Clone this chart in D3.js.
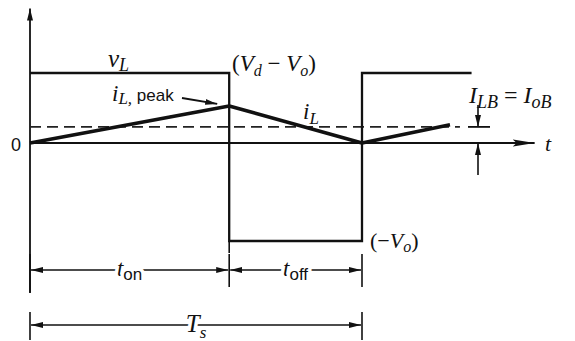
<!DOCTYPE html>
<html>
<head>
<meta charset="utf-8">
<script src="https://cdn.jsdelivr.net/npm/d3@7"></script>
<style>
  body { margin: 0; background: #fff; }
  svg { display: block; }
  .math { font-family: "Liberation Serif", "DejaVu Serif", serif; font-style: italic; fill: #111; }
  .sans { font-family: "Liberation Sans", "DejaVu Sans", sans-serif; font-style: normal; fill: #111; }
  .halo { paint-order: stroke; stroke: #fff; stroke-width: 7px; stroke-linejoin: round; }
</style>
</head>
<body>
<div id="wrapper"></div>
<script>
// Time is in units of Ts, values in arbitrary units (iL and vL share a y axis).
const DUTY = 0.6;
const T_END = 1.33;        // where the vL trace stops
const T_AXIS = 1.52;       // end of the time axis
const vLevels = [1, -1.4]; // (Vd - Vo), (-Vo)
const vTimes = [0, DUTY, 1, T_END];
const iTimes = [0, DUTY, 1, 1.265];
const iValues = [0, 0.53, 0, 0.26];
const iAverage = 0.23;     // I_LB = I_oB
const dimTimes = [0, DUTY, 1];

function drawChart() {
  const dimensions = { width: 575, height: 341 };

  const svg = d3.select("#wrapper").append("svg")
      .attr("width", dimensions.width)
      .attr("height", dimensions.height);
  svg.append("rect").attr("width", dimensions.width).attr("height", dimensions.height).attr("fill", "#fff");

  const xScale = d3.scaleLinear().domain([0, 1]).range([30, 362]);
  const yScale = d3.scaleLinear().domain([0, 1]).range([143, 73]);

  // arrow heads
  const defs = svg.append("defs");
  defs.append("marker")
      .attr("id", "head")
      .attr("viewBox", "0 0 12 8")
      .attr("refX", 12).attr("refY", 4)
      .attr("markerWidth", 12).attr("markerHeight", 8)
      .attr("markerUnits", "userSpaceOnUse")
      .attr("orient", "auto-start-reverse")
    .append("path")
      .attr("d", "M0,1 L12,4 L0,7 Z")
      .attr("fill", "#111");
  defs.append("marker")
      .attr("id", "bigHead")
      .attr("viewBox", "0 0 22 10")
      .attr("refX", 22).attr("refY", 5)
      .attr("markerWidth", 22).attr("markerHeight", 10)
      .attr("markerUnits", "userSpaceOnUse")
      .attr("orient", "auto")
    .append("path")
      .attr("d", "M0,1.5 L22,5 L0,8.5 L4,5 Z")
      .attr("fill", "#111");

  const line = d3.line().x(d => xScale(d[0])).y(d => yScale(d[1]));

  // axes
  svg.append("line")
      .attr("x1", xScale(0)).attr("y1", yScale(-2.14))
      .attr("x2", xScale(0)).attr("y2", yScale(1.92))
      .attr("stroke", "#111").attr("stroke-width", 1.8)
      .attr("marker-end", "url(#head)");
  svg.append("line")
      .attr("x1", xScale(0)).attr("y1", yScale(0))
      .attr("x2", xScale(T_AXIS)).attr("y2", yScale(0))
      .attr("stroke", "#111").attr("stroke-width", 1.8)
      .attr("marker-end", "url(#bigHead)");

  // switching line at ton continues a bit below the low level
  svg.append("line")
      .attr("x1", xScale(DUTY)).attr("y1", yScale(vLevels[1]))
      .attr("x2", xScale(DUTY)).attr("y2", yScale(vLevels[1]) + 12)
      .attr("stroke", "#111").attr("stroke-width", 1.6);

  // average current (dashed)
  svg.append("line")
      .attr("x1", xScale(0)).attr("y1", yScale(iAverage))
      .attr("x2", xScale(1.295)).attr("y2", yScale(iAverage))
      .attr("stroke", "#222").attr("stroke-width", 1.8)
      .attr("stroke-dasharray", "11,6");

  // vL square wave
  const vPoints = [
    [vTimes[0], vLevels[0]], [vTimes[1], vLevels[0]],
    [vTimes[1], vLevels[1]], [vTimes[2], vLevels[1]],
    [vTimes[2], vLevels[0]], [vTimes[3], vLevels[0]],
  ];
  svg.append("path")
      .attr("d", line(vPoints))
      .attr("fill", "none").attr("stroke", "#111").attr("stroke-width", 2.3);

  // iL triangle
  svg.append("path")
      .attr("d", line(d3.zip(iTimes, iValues)))
      .attr("fill", "none").attr("stroke", "#111").attr("stroke-width", 3.6)
      .attr("stroke-linejoin", "round");

  // peak arrow
  svg.append("line")
      .attr("x1", 182).attr("y1", 98)
      .attr("x2", xScale(DUTY) - 12).attr("y2", yScale(iValues[1]) - 2)
      .attr("stroke", "#111").attr("stroke-width", 1.8)
      .attr("marker-end", "url(#head)");

  // I_LB arrows
  const xArrow = 478;
  svg.append("line")
      .attr("x1", xArrow).attr("y1", yScale(iAverage) - 22)
      .attr("x2", xArrow).attr("y2", yScale(iAverage))
      .attr("stroke", "#111").attr("stroke-width", 1.6)
      .attr("marker-end", "url(#head)");
  svg.append("line")
      .attr("x1", 468).attr("y1", yScale(iAverage))
      .attr("x2", 490).attr("y2", yScale(iAverage))
      .attr("stroke", "#111").attr("stroke-width", 1.8);
  svg.append("line")
      .attr("x1", xArrow).attr("y1", yScale(0) + 32)
      .attr("x2", xArrow).attr("y2", yScale(0))
      .attr("stroke", "#111").attr("stroke-width", 1.6)
      .attr("marker-end", "url(#head)");

  // dimension lines
  const dimY1 = 270, dimY2 = 325;
  const ticks = svg.append("g");
  ticks.selectAll(".tick1")
    .data(dimTimes)
    .join("line")
      .attr("x1", d => xScale(d)).attr("x2", d => xScale(d))
      .attr("y1", dimY1 - 16).attr("y2", (d, i) => i === 0 ? 293 : dimY1 + 17)
      .attr("stroke", "#111").attr("stroke-width", 1.6);
  ticks.selectAll(".tick2")
    .data([dimTimes[0], dimTimes[2]])
    .join("line")
      .attr("x1", d => xScale(d)).attr("x2", d => xScale(d))
      .attr("y1", dimY2 - 13).attr("y2", dimY2 + 15)
      .attr("stroke", "#111").attr("stroke-width", 1.6);

  const dims = [
    { a: 0, b: DUTY, y: dimY1 },
    { a: DUTY, b: 1, y: dimY1 },
    { a: 0, b: 1, y: dimY2 },
  ];
  svg.selectAll(".dim")
    .data(dims)
    .join("line")
      .attr("x1", d => xScale(d.a) + 1).attr("x2", d => xScale(d.b) - 1)
      .attr("y1", d => d.y).attr("y2", d => d.y)
      .attr("stroke", "#111").attr("stroke-width", 1.3)
      .attr("marker-start", "url(#head)")
      .attr("marker-end", "url(#head)");

  // labels
  const label = (x, y, parts, size, anchor) => {
    const t = svg.append("text")
        .attr("x", x).attr("y", y)
        .attr("text-anchor", anchor || "start")
        .attr("font-size", size)
        .attr("class", "math");
    parts.forEach(p => {
      const s = t.append("tspan").text(p.text);
      if (p.sans) s.attr("class", "sans");
      if (p.upright) s.style("font-style", "normal");
      if (p.size) s.attr("font-size", p.size);
      if (p.dy) s.attr("dy", p.dy);
    });
    return t;
  };

  label(108, 67, [{ text: "v" }, { text: "L", size: 18, dy: 4 }], 25);
  label(232, 71, [{ text: "(", upright: true }, { text: "V" }, { text: "d", size: 16, dy: 5 },
    { text: " − ", upright: true, dy: -5 }, { text: "V" }, { text: "o", size: 16, dy: 5 },
    { text: ")", upright: true, dy: -5 }], 23);
  label(112, 101, [{ text: "i" }, { text: "L,", size: 17, dy: 3 }, { text: " peak", sans: true, size: 17, dy: -3 }], 23);
  label(303, 119, [{ text: "i" }, { text: "L", size: 17, dy: 5 }], 23);
  label(469, 103, [{ text: "I" }, { text: "LB", size: 18, dy: 5 }, { text: " = ", upright: true, dy: -5 },
    { text: "I" }, { text: "oB", size: 18, dy: 5 }], 24);
  label(545, 151, [{ text: "t" }], 22);
  label(11, 151, [{ text: "0", sans: true }], 18);
  label(370, 248, [{ text: "(−", upright: true }, { text: "V" }, { text: "o", size: 16, dy: 4 },
    { text: ")", upright: true, dy: -4 }], 22);

  label(xScale(DUTY / 2), dimY1 + 6, [{ text: "t" }, { text: "on", sans: true, size: 17, dy: 4 }], 23, "middle")
      .classed("halo", true);
  label(xScale((DUTY + 1) / 2), dimY1 + 6, [{ text: "t" }, { text: "off", sans: true, size: 17, dy: 4 }], 23, "middle")
      .classed("halo", true);
  label(xScale(0.5), dimY2 + 7, [{ text: "T" }, { text: "s", size: 17, dy: 6 }], 25, "middle")
      .classed("halo", true);
}
drawChart();
</script>
</body>
</html>
